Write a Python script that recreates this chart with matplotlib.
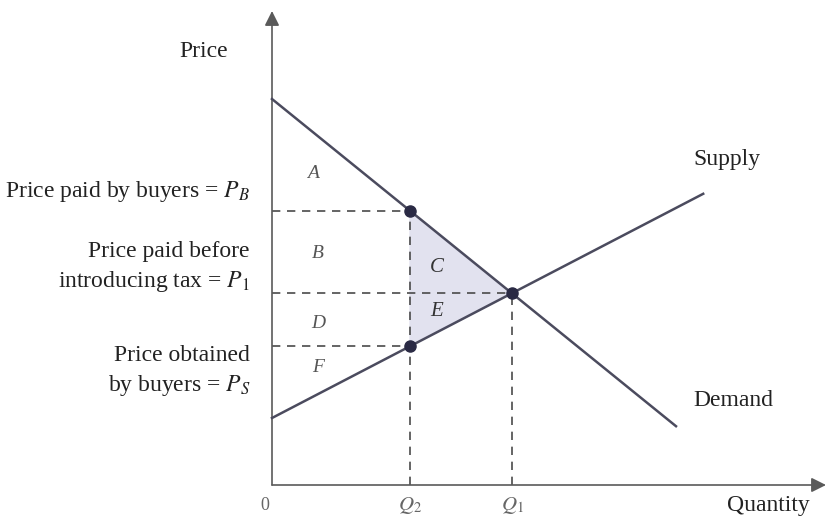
import matplotlib
matplotlib.use("Agg")
from matplotlib import pyplot as plt

plt.rcParams['font.family'] = ['Liberation Serif', 'DejaVu Serif']
plt.rcParams['mathtext.fontset'] = 'stix'

# demand / supply curve end points (quantity, price)
demand_q = [0, 10.1]
demand_p = [9.65, 1.47]
supply_q = [0, 10.78]
supply_p = [1.675, 7.28]

# equilibrium and tax points
q1, p1 = 6.0, 4.79
q2 = 3.45
pb = 6.86
ps = 3.47

line_col = '#4b4b5e'
dash_col = '#4a4a4a'
axis_col = '#5a5a5a'

fig = plt.figure(figsize=(8.29, 5.2), dpi=100)
ax = fig.add_axes([0, 0, 1, 1])
ax.set_xlim(-6.8, 13.925)
ax.set_ylim(-0.875, 12.125)
ax.axis('off')

# axes with arrows
ax.annotate('', xy=(0, 11.85), xytext=(0, 0),
            arrowprops=dict(arrowstyle='-|>', mutation_scale=22, color=axis_col, lw=1.2, shrinkA=0, shrinkB=0))
ax.annotate('', xy=(13.85, 0), xytext=(0, 0),
            arrowprops=dict(arrowstyle='-|>', mutation_scale=22, color=axis_col, lw=1.2, shrinkA=0, shrinkB=0))

# shaded deadweight loss triangle
ax.fill([q2, q1, q2], [pb, p1, ps], color='#e2e2ef', zorder=1)

# dashed guides
dash = dict(color=dash_col, lw=1.2, dashes=(5, 4), zorder=2)
ax.plot([0, q2], [pb, pb], **dash)
ax.plot([0, q1], [p1, p1], **dash)
ax.plot([0, q2], [ps, ps], **dash)
ax.plot([q2, q2], [0, pb], **dash)
ax.plot([q1, q1], [0, p1], **dash)

# curves
ax.plot(demand_q, demand_p, color=line_col, lw=1.8, zorder=3)
ax.plot(supply_q, supply_p, color=line_col, lw=1.8, zorder=3)

# points
ax.plot([q2, q2, q1], [pb, ps, p1], 'o', color='#2a2a44', ms=8, zorder=4)

# labels
big = 17
ax.text(-1.7, 10.83, 'Price', fontsize=big, ha='center', va='center', color='#222')
ax.text(11.375, 8.125, 'Supply', fontsize=big, ha='center', va='center', color='#222')
ax.text(11.525, 2.125, 'Demand', fontsize=big, ha='center', va='center', color='#222')
ax.text(12.4, -0.5, 'Quantity', fontsize=big, ha='center', va='center', color='#222')

ax.text(-0.55, 7.33, r'Price paid by buyers = $P_B$', fontsize=big, ha='right', va='center', color='#222')
ax.text(-0.55, 5.43, 'Price paid before\n' + r'introducing tax = $P_1$', fontsize=big,
        ha='right', va='center', color='#222', linespacing=1.4, multialignment='right')
ax.text(-0.55, 2.83, 'Price obtained\n' + r'by buyers = $P_S$', fontsize=big,
        ha='right', va='center', color='#222', linespacing=1.4, multialignment='right')

ax.text(-0.175, -0.5, '0', fontsize=13, ha='center', va='center', color='#666')
ax.text(q2, -0.5, r'$Q_2$', fontsize=15, ha='center', va='center', color='#666')
ax.text(q1, -0.5, r'$Q_1$', fontsize=15, ha='center', va='center', color='#666')

# area letters
area_names = ['A', 'B', 'D', 'F']
area_x = [1.03, 1.15, 1.15, 1.15]
area_y = [7.78, 5.78, 4.05, 2.93]
for name, x, y in zip(area_names, area_x, area_y):
    ax.text(x, y, name, fontsize=14, style='italic', ha='center', va='center', color='#555')
ax.text(4.125, 5.43, 'C', fontsize=15, style='italic', ha='center', va='center', color='#333')
ax.text(4.125, 4.35, 'E', fontsize=15, style='italic', ha='center', va='center', color='#333')

fig.savefig('out.png', dpi=100)
